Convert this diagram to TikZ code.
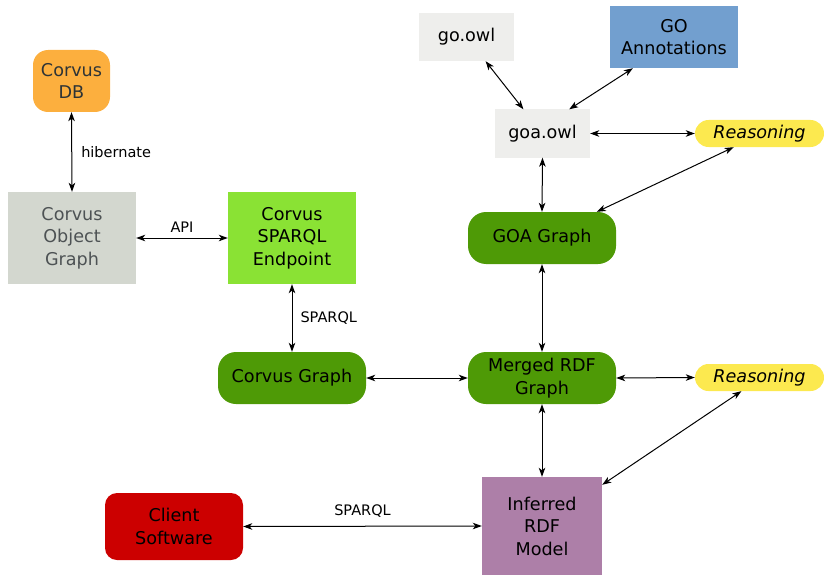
\documentclass[tikz,border=0pt]{standalone}
\usepackage{fontspec}
\setmainfont{DejaVu Sans}
\usetikzlibrary{arrows.meta,calc}
\definecolor{cdb}{HTML}{FCAF3E}
\definecolor{cgray}{HTML}{D3D7CF}
\definecolor{clight}{HTML}{8AE234}
\definecolor{cdark}{HTML}{4E9A06}
\definecolor{cowl}{HTML}{EEEEEC}
\definecolor{cblue}{HTML}{729FCF}
\definecolor{cyel}{HTML}{FCE94F}
\definecolor{cpurp}{HTML}{AD7FA8}
\definecolor{cred}{HTML}{CC0000}
\definecolor{ctext}{HTML}{2E3436}
\tikzset{
  box/.style={inner sep=0pt, align=center, font=\fontsize{17.6}{22.5}\selectfont, text=black},
  graphbox/.style={box, fill=cdark, rounded corners=18pt, minimum width=148pt, minimum height=52pt},
  reasonbox/.style={box, fill=cyel, rounded corners=13.5pt, minimum width=129pt, minimum height=27pt, font=\fontsize{17.6}{22}\selectfont\itshape},
  owlbox/.style={box, fill=cowl, minimum width=95pt, minimum height=48pt},
  conn/.style={line width=1pt, {Stealth[length=9pt,width=6.5pt,inset=2.5pt]}-{Stealth[length=9pt,width=6.5pt,inset=2.5pt]}},
  lbl/.style={font=\fontsize{14.5}{17}\selectfont, text=black, inner sep=0pt}
}
\begin{document}
\begin{tikzpicture}[x=1pt,y=-1pt]
\useasboundingbox (0,0) rectangle (824,575);
% nodes
\node[box, fill=cdb, rounded corners=15pt, minimum width=77pt, minimum height=62pt, text=ctext] (db) at (71.5,81) {Corvus\\DB};
\node[box, fill=cgray, minimum width=128pt, minimum height=92pt, text=ctext!85!white] (cog) at (72,238) {Corvus\\Object\\Graph};
\node[box, fill=clight, minimum width=128pt, minimum height=92pt] (ep) at (292,238) {Corvus\\SPARQL\\Endpoint};
\node[graphbox] (cg) at (292,378) {Corvus Graph};
\node[graphbox] (mg) at (542,378) {Merged RDF\\Graph};
\node[graphbox] (gg) at (542,238) {GOA Graph};
\node[owlbox] (goa) at (542.5,133.5) {goa.owl};
\node[owlbox] (go) at (466.5,37) {go.owl};
\node[box, fill=cblue, minimum width=128pt, minimum height=62pt] (ann) at (674,37) {GO\\Annotations};
\node[reasonbox] (r1) at (759.5,133.5) {Reasoning};
\node[reasonbox] (r2) at (759.5,377.5) {Reasoning};
\node[box, fill=cpurp, minimum width=120pt, minimum height=98pt] (inf) at (542,526) {Inferred\\RDF\\Model};
\node[box, fill=cred, rounded corners=12pt, minimum width=138pt, minimum height=67pt] (cl) at (174,526.5) {Client\\Software};
% connectors
\draw[conn] (db.south) -- (cog.north) node[lbl, midway, right=9pt] (lh) {hibernate};
\draw[conn] (cog.east) -- (ep.west) node[lbl, midway, above=5pt] (la) {API};
\draw[conn] (ep.south) -- (cg.north) node[lbl, midway, right=8pt] (ls) {SPARQL};
\draw[conn] (cg.east) -- (mg.west);
\draw[conn] ($(go.south west)!0.70!(go.south east)$) -- ($(goa.north west)!0.30!(goa.north east)$);
\draw[conn] ($(ann.south west)!0.18!(ann.south east)$) -- ($(goa.north west)!0.78!(goa.north east)$);
\draw[conn] (goa.east) -- (r1.west);
\draw[conn] (goa.south) -- (gg.north);
\draw[conn] ($(r1.south west)!0.30!(r1.south east)$) -- ($(gg.north west)!0.87!(gg.north east)$);
\draw[conn] (gg.south) -- (mg.north);
\draw[conn] (mg.east) -- (r2.west);
\draw[conn] ($(r2.south west)!0.36!(r2.south east)$) -- ($(inf.north east)+(0,8)$);
\draw[conn] (mg.south) -- (inf.north);
\draw[conn] (cl.east) -- (inf.west) node[lbl, midway, above=8pt] (lc) {SPARQL};
\end{tikzpicture}
\end{document}
